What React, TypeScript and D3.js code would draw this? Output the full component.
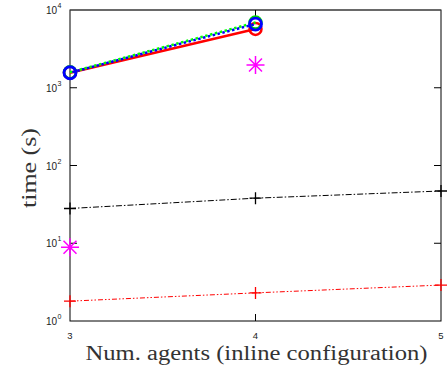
import React from 'react';
import * as d3 from 'd3';

// x categories (number of agents)
const agents = [3, 4, 5];

// series values (time in seconds)
const redSolid = [1560, 5700];
const greenDotted = [1580, 6900];
const blueDotted = [1560, 6600];
const magentaStar = [8.9, 1960];
const blackDashDot = [28, 38, 47];
const redDashDot = [1.8, 2.3, 2.9];

const yTicks = [1, 10, 100, 1000, 10000];
const yExp = ['0', '1', '2', '3', '4'];

const W = 447, H = 369;
const left = 70, right = 441, top = 10, bottom = 321;

const x = d3.scaleLinear().domain([3, 5]).range([left, right]);
const y = d3.scaleLog().domain([1, 10000]).range([bottom, top]);

const line = d3.line<[number, number]>().x(d => x(d[0])).y(d => y(d[1]));
const pts = (vals: number[]) => vals.map((v, i) => [agents[i], v] as [number, number]);

function Circles({ vals, color, w }: { vals: number[]; color: string; w: number }) {
  return <g>{vals.map((v, i) => (
    <circle key={i} cx={x(agents[i])} cy={y(v)} r={6} fill="none" stroke={color} strokeWidth={w} />
  ))}</g>;
}

function Plus({ vals, color, s }: { vals: number[]; color: string; s: number }) {
  return <g>{vals.map((v, i) => {
    const cx = x(agents[i]), cy = y(v);
    return <path key={i} d={`M${cx - s},${cy}H${cx + s}M${cx},${cy - s}V${cy + s}`} stroke={color} strokeWidth={1.3} />;
  })}</g>;
}

function Star({ vals, color, s }: { vals: number[]; color: string; s: number }) {
  return <g>{vals.map((v, i) => {
    const cx = x(agents[i]), cy = y(v), d = s * 0.72;
    return <path key={i}
      d={`M${cx - s},${cy}H${cx + s}M${cx},${cy - s}V${cy + s}M${cx - d},${cy - d}L${cx + d},${cy + d}M${cx - d},${cy + d}L${cx + d},${cy - d}`}
      stroke={color} strokeWidth={1.5} />;
  })}</g>;
}

export default function App() {
  const tick = 7;
  return (
    <svg width={W} height={H} style={{ position: 'absolute', left: 0, top: 0, background: '#fff' }}>
      {/* box */}
      <rect x={left} y={top} width={right - left} height={bottom - top} fill="none" stroke="#000" strokeWidth={1} />
      <line x1={left} x2={right} y1={top} y2={top} stroke="#555" />

      {/* y ticks both sides */}
      {yTicks.map((t, i) => (
        <g key={t}>
          {i > 0 && i < yTicks.length - 1 && (
            <>
              <line x1={left} x2={left + tick} y1={y(t)} y2={y(t)} stroke="#000" />
              <line x1={right} x2={right - tick} y1={y(t)} y2={y(t)} stroke="#000" />
            </>
          )}
          <text x={57} y={y(t) + 4} fontFamily="Liberation Sans, Arial, sans-serif" fontSize={10} textAnchor="end" fill="#222">
            10
          </text>
          <text x={57.5} y={y(t) - 2} fontFamily="Liberation Sans, Arial, sans-serif" fontSize={7} fill="#222">{yExp[i]}</text>
        </g>
      ))}

      {/* x ticks */}
      {agents.map(a => (
        <g key={a}>
          {a !== 3 && a !== 5 && (
            <>
              <line x1={x(a)} x2={x(a)} y1={bottom} y2={bottom - tick} stroke="#000" />
              <line x1={x(a)} x2={x(a)} y1={top} y2={top + tick} stroke="#000" />
            </>
          )}
          <text x={x(a)} y={339} fontFamily="Liberation Sans, Arial, sans-serif" fontSize={9.5} textAnchor="middle" fill="#222">{a}</text>
        </g>
      ))}

      {/* series */}
      <path d={line(pts(redSolid)) || ''} fill="none" stroke="#ff0000" strokeWidth={2.5} />
      <Circles vals={redSolid} color="#ff0000" w={2.5} />
      <path d={line(pts(greenDotted)) || ''} fill="none" stroke="#00ff00" strokeWidth={2.5} strokeDasharray="2.5 2.5" />
      <Circles vals={greenDotted} color="#00dd00" w={2.5} />
      <path d={line(pts(blueDotted)) || ''} fill="none" stroke="#0000ff" strokeWidth={2.5} strokeDasharray="2.5 2.5" strokeDashoffset={2.5} />
      <Circles vals={blueDotted} color="#0000ff" w={2.8} />
      <Star vals={magentaStar} color="#ff00ff" s={9} />
      <path d={line(pts(blackDashDot)) || ''} fill="none" stroke="#000" strokeWidth={1} strokeDasharray="6 2 1.5 2" />
      <Plus vals={blackDashDot} color="#000" s={6} />
      <path d={line(pts(redDashDot)) || ''} fill="none" stroke="#ff0000" strokeWidth={1} strokeDasharray="5 2 1.5 2 1.5 2" />
      <Plus vals={redDashDot} color="#ff0000" s={6} />

      {/* labels */}
      <text x={(left + right) / 2 + 1} y={360} fontFamily="Liberation Serif, 'DejaVu Serif', serif" fontSize={20} textAnchor="middle"
        textLength={342} lengthAdjust="spacingAndGlyphs" fill="#333">Num. agents (inline configuration)</text>
      <text transform={`translate(36,168) rotate(-90)`} fontFamily="Liberation Serif, 'DejaVu Serif', serif" fontSize={20}
        textAnchor="middle" textLength={80} lengthAdjust="spacingAndGlyphs" fill="#333">time (s)</text>
    </svg>
  );
}
